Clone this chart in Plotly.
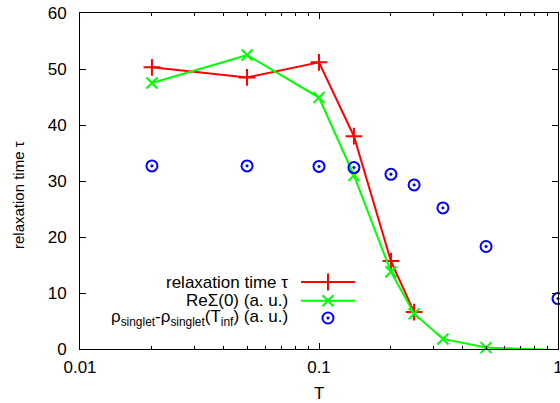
import plotly.graph_objects as go

# ---- data ----
T_tau = [0.02, 0.05, 0.1, 0.14, 0.2, 0.25]
tau = [50.3, 48.5, 51.2, 38.0, 15.7, 6.6]

T_re = [0.02, 0.05, 0.1, 0.14, 0.2, 0.25, 0.33, 0.5, 1.0]
re_sigma = [47.5, 52.5, 44.9, 31.0, 13.8, 6.3, 1.8, 0.25, -0.2]

T_p = [0.02, 0.05, 0.1, 0.14, 0.2, 0.25, 0.33, 0.5, 1.0]
p_singlet = [32.7, 32.7, 32.6, 32.4, 31.2, 29.3, 25.2, 18.3, 9.0]

x_ticks = [0.01, 0.1, 1]
x_ticklabels = ["0.01", "0.1", "1"]
x_minor = [k * d for d in (0.01, 0.1) for k in range(2, 10)]
y_ticks = [0, 10, 20, 30, 40, 50, 60]

legend_names = ["relaxation time τ", "ReΣ(0) (a. u.)",
                "ρ<sub>singlet</sub>-ρ<sub>singlet</sub>(T<sub>inf</sub>) (a. u.)"]

# ---- style ----
W, H = 560, 403
L, R, T, B = 80, 2, 13, 54
FONT = "Liberation Sans, Arial, sans-serif"
FS_TICK = 17
FS_LEG = 17
FS_YT = 15
FS_XT = 17
RED, GREEN, BLUE = "#ff0000", "#00ff00", "#0000ff"
YMIN, YMAX = 0, 60

def px_x(px):
    return (px - L) / (W - L - R)

def px_y(py):
    return (H - B - py) / (H - T - B)

fig = go.Figure()

# red: relaxation time
fig.add_trace(go.Scatter(
    x=T_tau, y=tau, mode="lines+markers", cliponaxis=False,
    line=dict(color=RED, width=2),
    marker=dict(symbol="cross-thin", size=12, line=dict(color=RED, width=2)),
    showlegend=False))

# green: line (clipped), markers only where inside the y-range
fig.add_trace(go.Scatter(
    x=T_re, y=re_sigma, mode="lines",
    line=dict(color=GREEN, width=2), showlegend=False))
gx = [t for t, v in zip(T_re, re_sigma) if YMIN <= v <= YMAX]
gy = [v for v in re_sigma if YMIN <= v <= YMAX]
fig.add_trace(go.Scatter(
    x=gx, y=gy, mode="markers", cliponaxis=False,
    marker=dict(symbol="x-thin", size=11, line=dict(color=GREEN, width=2)),
    showlegend=False))

# blue points
fig.add_trace(go.Scatter(
    x=T_p, y=p_singlet, mode="markers", cliponaxis=False,
    marker=dict(symbol="circle-open-dot", size=11, color=BLUE,
                line=dict(color=BLUE, width=2)),
    showlegend=False))

# ---- gnuplot-style legend (text right-aligned, sample to the right) ----
rows_py = [282, 300.7, 318]
text_right = px_x(290)
s0, s1 = px_x(301), px_x(355)
smid = (s0 + s1) / 2
styles = [
    dict(line=dict(color=RED, width=2), symbol="cross-thin", size=12, lines=True),
    dict(line=dict(color=GREEN, width=2), symbol="x-thin", size=11, lines=True),
    dict(line=None, symbol="circle-open-dot", size=11, lines=False),
]
cols = [RED, GREEN, BLUE]
for name, py, st, c in zip(legend_names, rows_py, styles, cols):
    yy = px_y(py)
    fig.add_annotation(x=text_right, y=yy, xref="paper", yref="paper",
                       text=name, showarrow=False, xanchor="right", yanchor="middle",
                       font=dict(family=FONT, size=FS_LEG, color="#000"))
    if st["lines"]:
        fig.add_trace(go.Scatter(x=[s0, s1], y=[yy, yy], mode="lines",
                                 xaxis="x2", yaxis="y2", line=st["line"],
                                 showlegend=False, hoverinfo="skip"))
    fig.add_trace(go.Scatter(x=[smid], y=[yy], mode="markers", cliponaxis=False,
                             xaxis="x2", yaxis="y2",
                             marker=dict(symbol=st["symbol"], size=st["size"], color=c,
                                         line=dict(color=c, width=2)),
                             showlegend=False, hoverinfo="skip"))

# axis titles
fig.add_annotation(x=px_x(18), y=px_y(195), xref="paper", yref="paper",
                   text="relaxation time τ", textangle=-90, showarrow=False,
                   xanchor="center", yanchor="middle",
                   font=dict(family=FONT, size=FS_YT, color="#000"))
fig.add_annotation(x=0.5, y=px_y(393), xref="paper", yref="paper",
                   text="T", showarrow=False, xanchor="center", yanchor="middle",
                   font=dict(family=FONT, size=FS_XT, color="#000"))

fig.update_layout(
    width=W, height=H, autosize=False,
    margin=dict(l=L, r=R, t=T, b=B, pad=0, autoexpand=False),
    paper_bgcolor="white", plot_bgcolor="white",
    font=dict(family=FONT, size=FS_TICK, color="#000"),
    showlegend=False,
    xaxis=dict(type="log", range=[-2, 0], tickvals=x_ticks, ticktext=x_ticklabels,
               ticks="inside", ticklen=6, tickwidth=1, tickcolor="#000",
               minor=dict(tickvals=x_minor, ticks="inside", ticklen=3,
                          tickwidth=1, tickcolor="#000"),
               showline=True, linecolor="#000", linewidth=1, mirror="allticks",
               showgrid=False, zeroline=False, ticklabelstandoff=3,
               ticklabeloverflow="allow", automargin=False),
    yaxis=dict(range=[YMIN, YMAX], tickvals=y_ticks,
               ticks="inside", ticklen=6, tickwidth=1, tickcolor="#000",
               showline=True, linecolor="#000", linewidth=1, mirror="allticks",
               showgrid=False, zeroline=False, ticklabelstandoff=9,
               ticklabeloverflow="allow", automargin=False),
    xaxis2=dict(overlaying="x", range=[0, 1], visible=False, fixedrange=True),
    yaxis2=dict(overlaying="y", range=[0, 1], visible=False, fixedrange=True),
)

fig.write_html("out.html", config={"displayModeBar": False, "responsive": False},
               post_script="document.body.style.margin='0';document.body.style.overflow='hidden';")
